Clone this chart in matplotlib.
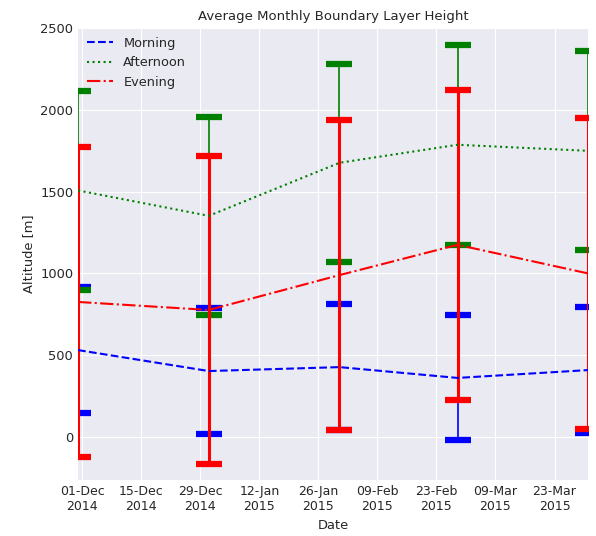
import matplotlib
matplotlib.use("Agg")
import matplotlib.pyplot as plt
import matplotlib.dates as mdates
import pandas as pd

# monthly means (end of month) and standard deviations
dates = pd.to_datetime(["2014-11-30", "2014-12-31", "2015-01-31", "2015-02-28", "2015-03-31"])
morning = [532, 404, 428, 362, 410]
morning_std = [385, 385, 383, 382, 385]
afternoon = [1507, 1352, 1676, 1786, 1749]
afternoon_std = [605, 605, 603, 610, 607]
evening = [826, 777, 990, 1175, 1000]
evening_std = [945, 943, 945, 945, 948]

tick_dates = pd.date_range("2014-12-01", periods=9, freq="14D")

plt.style.use("seaborn-v0_8-darkgrid")
plt.rcParams["font.family"] = ["DejaVu Sans"]

fig = plt.figure(figsize=(5.96, 5.36), dpi=100)
ax = fig.add_axes([0.131, 0.104, 0.856, 0.844])

series = [
    (morning, morning_std, "b", "--", "Morning", 1.2),
    (afternoon, afternoon_std, "g", ":", "Afternoon", 1.2),
    (evening, evening_std, "r", "-.", "Evening", 2.2),
]

for vals, std, col, ls, lab, elw in series:
    ax.errorbar(dates, vals, yerr=std, fmt="none", ecolor=col,
                elinewidth=elw, capsize=9.5, capthick=4.5, zorder=2)

for vals, std, col, ls, lab, elw in series:
    ax.plot(dates, vals, linestyle=ls, color=col, linewidth=1.5,
            label=lab, zorder=3)

ax.set_xlim(dates[0], dates[-1])
ax.set_ylim(-263, 2500)
ax.set_xticks(tick_dates)
ax.xaxis.set_major_formatter(mdates.DateFormatter("%d-%b\n%Y"))
ax.tick_params(axis="x", labelsize=9)
ax.tick_params(axis="y", labelsize=9.4)

ax.set_title("Average Monthly Boundary Layer Height", fontsize=9.5)
ax.set_xlabel("Date", fontsize=9.4)
ax.set_ylabel("Altitude [m]", fontsize=9.4)
ax.legend(loc="upper left", fontsize=9.3, frameon=False,
          borderaxespad=0.3)

fig.savefig("out.png", dpi=100)
